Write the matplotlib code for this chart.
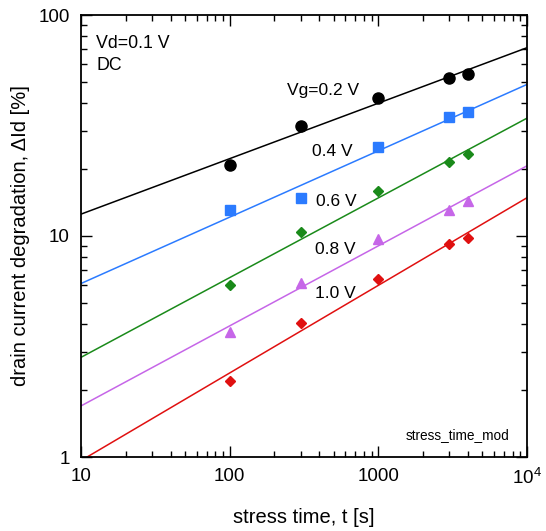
import numpy as np
import matplotlib
matplotlib.use("Agg")
import matplotlib.pyplot as plt
from matplotlib.ticker import LogLocator, NullFormatter, FixedLocator, FixedFormatter

plt.rcParams['font.family'] = ['Liberation Sans', 'DejaVu Sans']
plt.rcParams['mathtext.fontset'] = 'custom'
plt.rcParams['mathtext.rm'] = 'Liberation Sans'

# stress times [s]
t = np.array([100, 300, 1000, 3000, 4000])

# drain current degradation [%] for each gate voltage
vg_labels = ['Vg=0.2 V', '0.4 V', '0.6 V', '0.8 V', '1.0 V']
d_02 = np.array([20.9, 31.6, 42.2, 52.0, 54.0])
d_04 = np.array([13.1, 14.9, 25.2, 34.7, 36.5])
d_06 = np.array([6.0, 10.4, 15.9, 21.7, 23.4])
d_08 = np.array([3.69, 6.15, 9.66, 13.1, 14.4])
d_10 = np.array([2.21, 4.03, 6.39, 9.17, 9.77])

series = [d_02, d_04, d_06, d_08, d_10]
colors = ['black', '#2b7bff', '#1a8a1a', '#c666e8', '#e01010']
markers = ['o', 's', 'D', '^', 'D']
msizes = [8, 7.8, 5, 7, 5.3]
label_pos = [(287, 90), (312, 152), (316, 202), (315, 250), (315, 293)]

fig = plt.figure(figsize=(5.46, 5.31), dpi=100)
ax = fig.add_axes([81/546, 1 - 457/531, 446/546, 442/531])

tfit = np.array([10, 1e4])
for y, c, m, ms in zip(series, colors, markers, msizes):
    # power-law fit in log-log space
    k, b = np.polyfit(np.log10(t), np.log10(y), 1)
    ax.plot(tfit, 10 ** (b + k * np.log10(tfit)), color=c, lw=1.1)
    ax.plot(t, y, ls='none', marker=m, ms=ms, color=c, mec=c)

ax.set_xscale('log')
ax.set_yscale('log')
ax.set_xlim(10, 1e4)
ax.set_ylim(1, 100)

ax.xaxis.set_major_locator(FixedLocator([10, 100, 1000, 1e4]))
ax.xaxis.set_major_formatter(FixedFormatter(['10', '100', '1000', r'$\mathrm{10^4}$']))
ax.yaxis.set_major_locator(FixedLocator([1, 10, 100]))
ax.yaxis.set_major_formatter(FixedFormatter(['1', '10', '100']))
for a in (ax.xaxis, ax.yaxis):
    a.set_minor_locator(LogLocator(base=10, subs=np.arange(2, 10)))
    a.set_minor_formatter(NullFormatter())

ax.tick_params(which='both', direction='in', top=True, right=True, labelsize=13.5, width=1)
ax.tick_params(which='major', length=8, pad=8)
ax.tick_params(which='minor', length=4.5)
for s in ax.spines.values():
    s.set_linewidth(1.3)

ax.set_xlabel('stress time, t [s]', fontsize=14.5, labelpad=14)
ax.set_ylabel('drain current degradation, \u0394Id [%]', fontsize=14.5, labelpad=6)

ax.text(96, 531 - 44, 'Vd=0.1 V', transform=None, fontsize=12.8, va='center')
ax.text(96, 531 - 65, 'DC', transform=None, fontsize=12.8, va='center')
for lab, (px, py) in zip(vg_labels, label_pos):
    ax.text(px, 531 - py, lab, transform=None, fontsize=12.5, va='center')
ax.text(0.96, 0.05, 'stress_time_mod', transform=ax.transAxes, fontsize=9.8, ha='right', va='center')

fig.savefig('out.png', dpi=100)
